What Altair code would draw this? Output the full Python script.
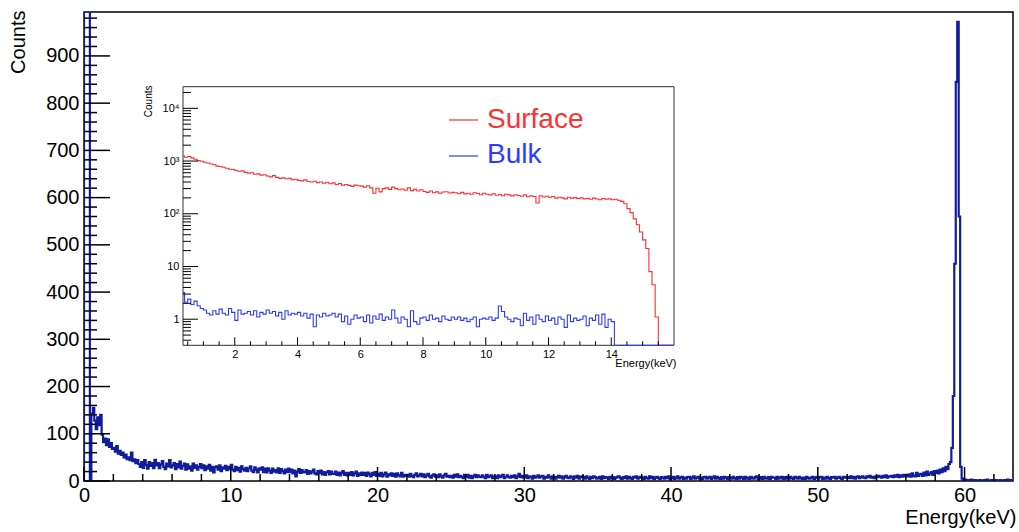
import numpy as np
import pandas as pd
import altair as alt

# ---------------- data ----------------
main_bin_width = 0.1   # keV, bins start at 0.0
main_counts = [
    3000, 3000, 3000, 3000, 0, 142, 155, 128, 110, 135,      # 0
    118, 140, 98, 82, 90, 76, 88, 72, 80, 68,                # 1
    70, 62, 74, 58, 64, 55, 60, 50, 56, 46,                  # 2
    50, 44, 60, 42, 46, 38, 44, 36, 30, 40,                  # 3
    28, 44, 34, 26, 40, 32, 38, 27, 45, 33,                  # 4
    38, 27, 35, 42, 30, 25, 37, 31, 44, 29,                  # 5
    33, 38, 25, 36, 29, 41, 26, 32, 37, 24,                  # 6
    35, 26, 31, 22, 37, 28, 33, 24, 30, 36,                  # 7
    27, 33, 23, 31, 26, 34, 22, 30, 18, 29,                  # 8
    31, 24, 33, 21, 29, 26, 32, 23, 30, 25,                  # 9
    34, 24, 21, 30, 23, 28, 20, 31, 25, 22,                  # 10
    28, 21, 27, 31, 22, 19, 29, 24, 18, 27,                  # 11
    24, 29, 19, 26, 18, 27, 22, 17, 26, 20,                  # 12
    23, 18, 27, 17, 25, 21, 16, 24, 19, 26,                  # 13
    19, 24, 16, 22, 10, 20, 25, 17, 23, 18,                  # 14
    19, 23, 15, 21, 16, 20, 24, 16, 14, 21,                  # 15
    17, 22, 14, 19, 13, 18, 21, 14, 20, 15,                  # 16
    15, 20, 13, 18, 12, 17, 21, 13, 17, 12,                  # 17
    17, 13, 19, 12, 16, 20, 11, 16, 13, 18,                  # 18
    13, 17, 11, 18, 14, 10, 17, 13, 19, 11,                  # 19
    15, 11, 17, 10, 14, 18, 9, 14, 12, 16,                   # 20
    11, 15, 9, 16, 12, 10, 17, 9, 13, 11,                    # 21
    13, 9, 15, 11, 8, 13, 16, 10, 12, 15,                    # 22
    10, 14, 8, 12, 15, 10, 7, 12, 14, 9,                     # 23
    12, 8, 14, 10, 7, 12, 15, 9, 11, 8,                      # 24
    11, 7, 13, 9, 14, 8, 11, 9, 6, 13,                       # 25
    9, 13, 7, 11, 6, 10, 13, 8, 12, 9,                       # 26
    8, 12, 9, 6, 13, 8, 10, 12, 6, 10,                       # 27
    10, 6, 12, 8, 10, 13, 6, 9, 12, 8,                       # 28
    7, 11, 8, 12, 6, 10, 15, 8, 11, 7,                       # 29
    8, 12, 6, 10, 9, 5, 11, 7, 9, 12,                        # 30
    7, 10, 11, 5, 9, 7, 12, 8, 5, 10,                        # 31
    9, 5, 8, 11, 7, 10, 5, 8, 11, 7,                         # 32
    6, 10, 8, 4, 10, 7, 11, 5, 8, 10,                        # 33
    8, 5, 10, 7, 4, 9, 6, 10, 8, 5,                          # 34
    6, 9, 4, 10, 6, 8, 7, 4, 9, 6,                           # 35
    8, 4, 7, 9, 10, 6, 4, 8, 6, 10,                          # 36
    5, 9, 6, 4, 9, 7, 10, 5, 7, 9,                           # 37
    7, 4, 9, 6, 5, 10, 6, 9, 4, 7,                           # 38
    9, 6, 4, 8, 7, 5, 9, 6, 10, 4,                           # 39
    6, 9, 4, 7, 10, 5, 7, 9, 4, 7,                           # 40
    5, 8, 9, 4, 7, 10, 5, 7, 9, 5,                           # 41
    7, 4, 8, 9, 5, 7, 9, 4, 7, 10,                           # 42
    5, 9, 6, 4, 8, 5, 9, 7, 4, 8,                            # 43
    7, 5, 9, 6, 4, 8, 5, 9, 7, 4,                            # 44
    9, 5, 7, 4, 9, 6, 5, 8, 10, 4,                           # 45
    5, 8, 4, 9, 6, 5, 8, 4, 9, 7,                            # 46
    7, 4, 9, 5, 7, 9, 4, 8, 5, 9,                            # 47
    5, 9, 6, 4, 9, 7, 5, 9, 6, 4,                            # 48
    7, 4, 9, 6, 5, 7, 9, 4, 7, 9,                            # 49
    5, 8, 9, 4, 7, 5, 9, 6, 4, 8,                            # 50
    7, 9, 5, 7, 9, 6, 4, 9, 7, 8,                            # 51
    8, 6, 10, 6, 9, 5, 8, 10, 6, 8,                          # 52
    10, 7, 6, 10, 8, 11, 7, 9, 6, 10,                        # 53
    8, 11, 9, 7, 11, 8, 12, 7, 10, 9,                        # 54
    11, 8, 12, 9, 13, 8, 12, 9, 13, 10,                      # 55
    13, 10, 14, 9, 16, 11, 10, 17, 11, 14,                   # 56
    15, 11, 18, 12, 20, 13, 16, 19, 13, 21,                  # 57
    17, 22, 16, 24, 19, 27, 21, 30, 25, 36,                  # 58
    40, 70, 180, 460, 845, 972, 560, 30, 5, 2,               # 59
    3, 1, 2, 0, 3, 2, 1, 2, 0, 1,                            # 60
    2, 1, 0, 2, 1, 3, 1, 0, 2, 1,                            # 61
    1, 2, 0, 1, 2, 1, 0, 2, 1, 3,                            # 62
    1, 2, 0,                                                 # 63
]

inset_start = 0.3      # keV, first inset bin
inset_bin_width = 0.1
surface_counts = [
    1250, 1180, 1220, 1150, 1080, 1020, 990,                  # 0.3-0.9
    950, 920, 880, 850, 800, 790, 760, 730, 700, 690,         # 1
    660, 640, 650, 610, 590, 600, 560, 570, 540, 550,         # 2
    520, 500, 530, 490, 470, 480, 460, 470, 445, 450,         # 3
    430, 420, 440, 410, 400, 415, 390, 400, 380, 395,         # 4
    370, 385, 360, 375, 350, 360, 345, 330, 350, 340,         # 5
    335, 320, 340, 310, 245, 305, 260, 300, 310, 290,         # 6
    320, 300, 285, 295, 280, 310, 275, 290, 270, 285,         # 7
    265, 255, 270, 250, 260, 245, 258, 262, 248, 255,         # 8
    250, 240, 255, 238, 245, 235, 250, 242, 230, 245,         # 9
    235, 228, 240, 225, 232, 220, 235, 228, 218, 230,         # 10
    222, 215, 228, 210, 218, 212, 160, 220, 208, 215,         # 11
    205, 212, 198, 206, 200, 192, 205, 198, 202, 195,         # 12
    200, 192, 196, 188, 198, 190, 185, 195, 188, 192,         # 13
    185, 188, 180, 172, 155, 125, 105, 80, 62, 45,            # 14
    32, 22, 8, 4.5, 1.1, 0, 0, 0, 0, 0,                       # 15
]
bulk_counts = [
    3.2, 2.1, 2.4, 1.9, 2.2, 1.8, 1.6,                        # 0.3-0.9
    1.5, 1.3, 1.2, 1.45, 1.25, 1.55, 1.3, 1.2, 1.6, 1.35,     # 1
    0.95, 1.5, 1.25, 1.3, 1.4, 1.2, 1.45, 1.1, 1.35, 1.25,    # 2
    1.5, 1.3, 1.4, 1.15, 1.35, 1.0, 1.45, 1.2, 1.3, 1.25,     # 3
    1.35, 1.15, 1.3, 1.05, 1.25, 0.72, 1.2, 1.1, 1.3, 1.15,   # 4
    1.2, 1.3, 1.1, 1.25, 0.9, 1.15, 0.8, 1.0, 1.2, 1.05,      # 5
    1.1, 0.9, 1.2, 0.85, 1.15, 1.0, 1.25, 0.95, 1.1, 1.0,     # 6
    1.5, 1.05, 0.85, 1.1, 1.0, 0.72, 1.45, 0.9, 0.8, 1.05,    # 7
    1.1, 0.95, 1.2, 1.0, 1.05, 0.9, 1.15, 1.0, 0.95, 1.1,     # 8
    1.0, 1.1, 0.95, 1.05, 0.9, 1.0, 1.1, 0.72, 1.0, 1.05,     # 9
    1.0, 1.1, 0.95, 1.05, 1.78, 1.4, 1.1, 1.0, 0.9, 1.05,     # 10
    1.0, 0.75, 1.3, 0.95, 1.1, 0.8, 1.2, 1.0, 0.9, 1.15,      # 11
    0.95, 1.05, 0.8, 1.1, 1.0, 0.7, 1.2, 0.9, 1.05, 0.95,     # 12
    1.0, 1.15, 0.75, 1.05, 0.95, 1.2, 0.8, 1.25, 0.7, 1.0,    # 13
    0.9, 0, 0, 0, 0, 0, 0, 0, 0, 0,                           # 14
    0, 0, 0, 0, 0, 0, 0, 0, 0, 0,                             # 15
]
series_names = ["Surface", "Bulk"]

main_x_labels = [0, 10, 20, 30, 40, 50, 60]
main_y_labels = [0, 100, 200, 300, 400, 500, 600, 700, 800, 900]
inset_x_labels = [2, 4, 6, 8, 10, 12, 14]
inset_y_labels = [1, 10, 100, 1000, 10000]

# ---------------- layout / style ----------------
FONT = "Liberation Sans"
W, H = 929, 469
X_MAX, Y_MAX = 63.3, 993
IX0, IX1 = 99, 590          # inset frame (plot coords)
IY0, IY1 = 74.7, 333.3
INSET_X_DOM = [0.35, 16.0]
INSET_Y_DOM = [0.32, 25700]
NAVY = "#111c9c"
RED = "#ff3030"
BLUE = "#2c3cff"


def step_frame(start, width, counts):
    n = len(counts)
    xs = [start + width * k for k in range(n)] + [start + width * n]
    ys = list(counts) + [counts[-1]]
    return pd.DataFrame({"e": xs, "c": ys, "i": range(n + 1)})


main_df = step_frame(0.0, main_bin_width, main_counts)
main_df = pd.concat([pd.DataFrame({"e": [0.0], "c": [0], "i": [-1]}), main_df])
surf_df = step_frame(inset_start, inset_bin_width, surface_counts)
bulk_df = step_frame(inset_start, inset_bin_width, bulk_counts)

x_main = alt.Scale(domain=[0, X_MAX], nice=False, zero=False)
y_main = alt.Scale(domain=[0, Y_MAX], nice=False, zero=False)
x_in = alt.Scale(domain=INSET_X_DOM, range=[IX0, IX1], nice=False, zero=False, clamp=True)
y_in = alt.Scale(type="log", domain=INSET_Y_DOM, range=[IY1, IY0], nice=False, clamp=True)

ax_main_x = alt.Axis(
    orient="bottom", values=main_x_labels, ticks=False, domain=False, grid=False,
    labelFont=FONT, labelFontSize=20, labelColor="black", labelPadding=4,
    labelFlush=False, labelOverlap=False,
    title="Energy(keV)", titleFont=FONT, titleFontSize=20, titleFontWeight="normal",
    titleColor="black", titleAlign="right", titleBaseline="middle",
    titleX=W + 3, titleY=36, titleAngle=0)
ax_main_y = alt.Axis(
    orient="left", values=main_y_labels, ticks=False, domain=False, grid=False,
    labelFont=FONT, labelFontSize=20, labelColor="black", labelPadding=5,
    labelFlush=False, labelOverlap=False,
    title="Counts", titleFont=FONT, titleFontSize=20, titleFontWeight="normal",
    titleColor="black", titleAngle=270, titleAlign="right", titleBaseline="middle",
    titleX=-66, titleY=-2)
ax_in_x = alt.Axis(
    orient="bottom", offset=-(H - IY1), values=inset_x_labels, ticks=False,
    domain=False, grid=False, labelFont=FONT, labelFontSize=11, labelColor="black",
    labelPadding=3, labelFlush=False, labelOverlap=False,
    title="Energy(keV)", titleFont=FONT, titleFontSize=11, titleFontWeight="normal",
    titleColor="black", titleAlign="right", titleBaseline="middle",
    titleX=IX1 + 2, titleY=18, titleAngle=0)
ax_in_y = alt.Axis(
    orient="left", offset=-IX0, values=inset_y_labels, ticks=False, domain=False,
    grid=False, labelFont=FONT, labelFontSize=11, labelColor="black", labelPadding=4,
    labelFlush=False, labelOverlap=False,
    labelExpr="datum.value == 1 ? '1' : datum.value == 10 ? '10' : datum.value == 100 ? '10²' : datum.value == 1000 ? '10³' : '10⁴'",
    title="Counts", titleFont=FONT, titleFontSize=10, titleFontWeight="normal",
    titleColor="black", titleAngle=270, titleAlign="right", titleBaseline="middle",
    titleX=-35, titleY=73)

main_hist = alt.Chart(main_df).mark_line(
    interpolate="step-after", color=NAVY, strokeWidth=2.2, clip=True
).encode(
    x=alt.X("e:Q", scale=x_main, axis=ax_main_x),
    y=alt.Y("c:Q", scale=y_main, axis=ax_main_y),
    order=alt.Order("i:Q"),
)

xmaj = pd.DataFrame({"e": main_x_labels})
xmin = pd.DataFrame({"e": [v for v in np.arange(2, 63, 2) if v % 10 != 0]})
ymaj = pd.DataFrame({"c": main_y_labels})
ymin = pd.DataFrame({"c": [v for v in np.arange(20, Y_MAX, 20) if v % 100 != 0]})


def xticks(df, length, xs, xa, ybase, width=1.5):
    return alt.Chart(df).mark_rule(color="black", strokeWidth=width).encode(
        x=alt.X("e:Q", scale=xs, axis=xa),
        y=alt.value(ybase), y2=alt.value(ybase - length))


def yticks(df, length, ys, ya, xbase, width=1.5):
    return alt.Chart(df).mark_rule(color="black", strokeWidth=width).encode(
        y=alt.Y("c:Q", scale=ys, axis=ya),
        x=alt.value(xbase), x2=alt.value(xbase + length))


main_layer = alt.layer(
    main_hist,
    xticks(xmaj, 14, x_main, ax_main_x, H), xticks(xmin, 7, x_main, ax_main_x, H),
    yticks(ymaj, 26, y_main, ax_main_y, 0), yticks(ymin, 13, y_main, ax_main_y, 0),
)

# ---------------- inset ----------------
frame = alt.Chart(pd.DataFrame({"a": [0]})).mark_rect(
    fill="white", stroke="#333333", strokeWidth=1
).encode(x=alt.value(IX0), x2=alt.value(IX1), y=alt.value(IY0), y2=alt.value(IY1))


def inset_line(df, color):
    return alt.Chart(df).transform_calculate(
        cp=f"max(datum.c, {INSET_Y_DOM[0]})"
    ).mark_line(interpolate="step-after", color=color, strokeWidth=1.1).encode(
        x=alt.X("e:Q", scale=x_in, axis=ax_in_x),
        y=alt.Y("cp:Q", scale=y_in, axis=ax_in_y),
        order=alt.Order("i:Q"),
    )


ixmaj = pd.DataFrame({"e": inset_x_labels})
ixmin = pd.DataFrame({"e": [v for v in np.arange(0.5, 16, 0.5) if v % 2 != 0]})
iymaj = pd.DataFrame({"c": inset_y_labels})
iymin = pd.DataFrame({"c": [k * 10.0 ** p for p in range(-1, 5) for k in range(2, 10)
                            if INSET_Y_DOM[0] < k * 10.0 ** p < INSET_Y_DOM[1]]})

leg_surf_t = alt.Chart(pd.DataFrame({"t": [series_names[0]]})).mark_text(
    font=FONT, fontSize=28, color=RED, align="left", baseline="alphabetic"
).encode(text="t:N", x=alt.value(403), y=alt.value(116))
leg_bulk_t = alt.Chart(pd.DataFrame({"t": [series_names[1]]})).mark_text(
    font=FONT, fontSize=28, color=BLUE, align="left", baseline="alphabetic"
).encode(text="t:N", x=alt.value(403), y=alt.value(151))
leg_surf_l = alt.Chart(pd.DataFrame({"a": [0]})).mark_rule(color=RED, strokeWidth=1.2).encode(
    x=alt.value(365), x2=alt.value(394), y=alt.value(108))
leg_bulk_l = alt.Chart(pd.DataFrame({"a": [0]})).mark_rule(color=BLUE, strokeWidth=1.2).encode(
    x=alt.value(365), x2=alt.value(394), y=alt.value(144))

inset_layer = alt.layer(
    frame,
    inset_line(surf_df, RED),
    inset_line(bulk_df, BLUE),
    xticks(ixmaj, 8, x_in, ax_in_x, IY1, 1), xticks(ixmin, 4, x_in, ax_in_x, IY1, 1),
    yticks(iymaj, 15, y_in, ax_in_y, IX0, 1), yticks(iymin, 8, y_in, ax_in_y, IX0, 1),
    leg_surf_l, leg_bulk_l, leg_surf_t, leg_bulk_t,
)

chart = alt.layer(main_layer, inset_layer).resolve_scale(
    x="independent", y="independent"
).properties(
    width=W, height=H,
    autosize=alt.AutoSizeParams(type="none"),
    padding={"left": 84, "top": 12, "right": 6, "bottom": 51},
    background="white",
).configure_view(stroke="black", strokeWidth=1.5)

chart.save("out.html", embed_options={"renderer": "svg", "actions": False})
